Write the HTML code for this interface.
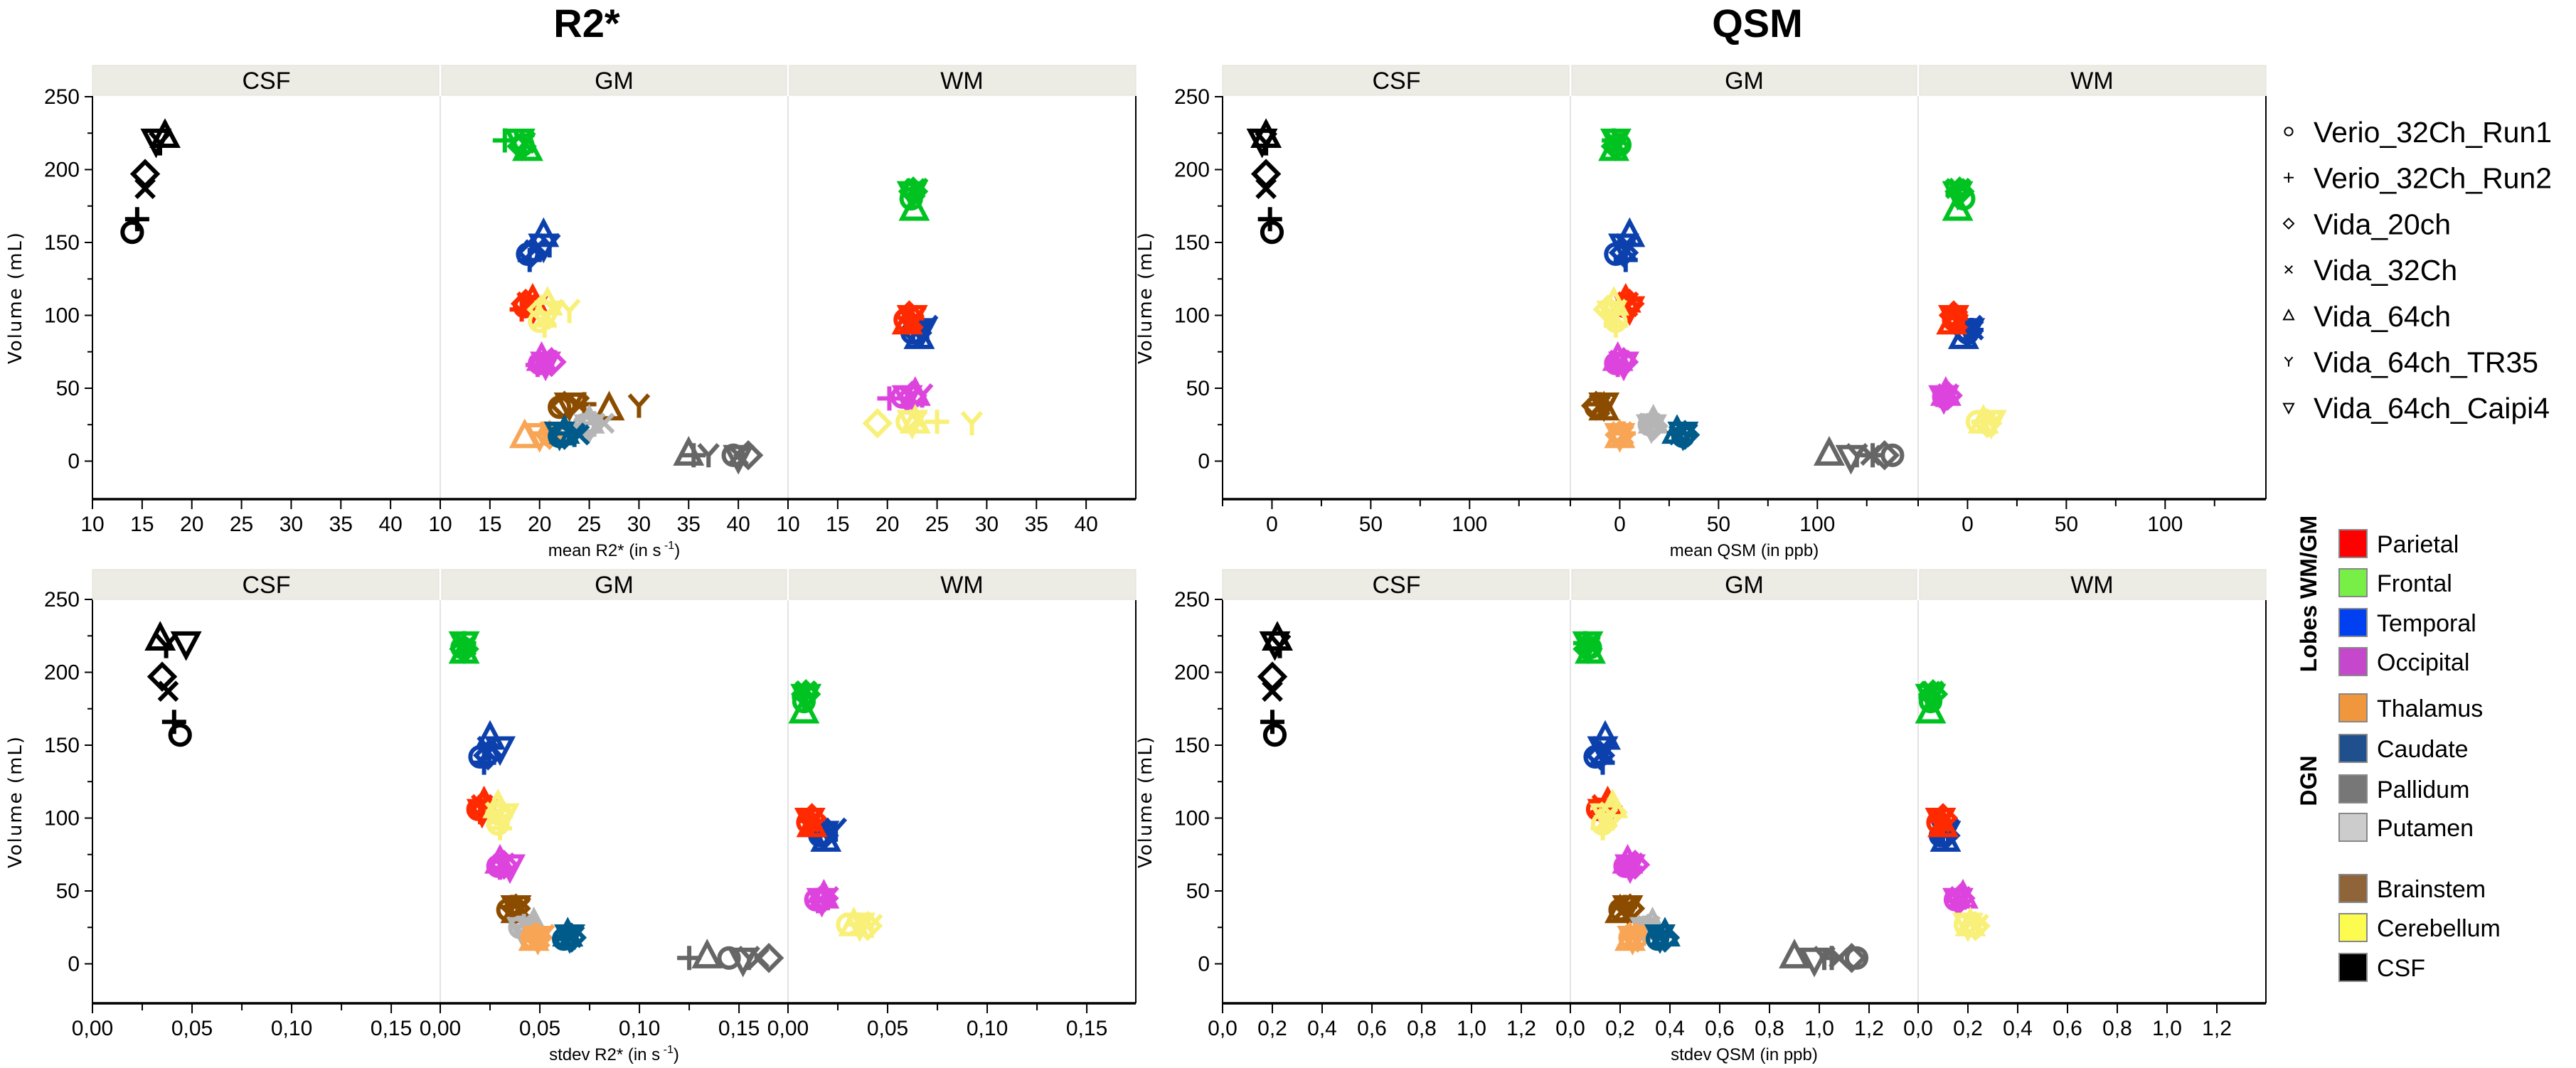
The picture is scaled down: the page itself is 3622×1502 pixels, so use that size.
<!DOCTYPE html>
<html><head><meta charset="utf-8">
<style>
html,body{margin:0;padding:0;background:#fff;}
svg{display:block;font-family:"Liberation Sans",Arial,sans-serif;}
</style></head>
<body>
<svg id="fig" width="3622" height="1502" viewBox="0 0 3622 1502" xmlns="http://www.w3.org/2000/svg">
<text x="825" y="52" font-size="56" font-weight="bold" text-anchor="middle">R2*</text>
<text x="2471" y="52" font-size="56" font-weight="bold" text-anchor="middle">QSM</text>
<g id="plots"></g>
<g id="legend"></g>
</svg>
<script>
// ---- data ----
const scanners = ["Verio_32Ch_Run1","Verio_32Ch_Run2","Vida_20ch","Vida_32Ch","Vida_64ch","Vida_64ch_TR35","Vida_64ch_Caipi4"];
const shapes = ["circle","plus","diamond","cross","triangle","y","tridown"];
const regions = ["CSF","Frontal GM","Temporal GM","Parietal GM","Cerebellum GM","Occipital GM","Brainstem","Putamen","Thalamus","Caudate","Pallidum","Frontal WM","Temporal WM","Parietal WM","Occipital WM","Cerebellum WM"];
const regionFacet = [0,1,1,1,1,1,1,1,1,1,1,2,2,2,2,2];
const regionColor = ["#000000","#00c322","#0c40ad","#ff2a00","#f8f078","#dd44dd","#8b4c00","#b5b5b5","#f8a555","#005a8a","#666666","#00c322","#0c40ad","#ff2a00","#dd44dd","#f8f078"];
const volume = [
 [157,166,197,187,223,218,220],
 [217,220,216,218,214,218,220],
 [142,138,143,145,155,148,148],
 [106,104,108,106,110,108,105],
 [96,93,104,100,108,103,102],
 [67,66,68,67,70,68,67],
 [37,39,38,38,36,38,39],
 [25,26,24,26,27,25,24],
 [18,19,18,18,17,19,18],
 [17,19,18,18,20,18,19],
 [4,4,4,4,5,4,3],
 [180,183,185,187,173,186,184],
 [88,90,88,90,85,92,90],
 [97,98,100,97,95,98,99],
 [44,43,45,44,46,45,44],
 [27,27,26,28,27,26,27]];
const meanR2 = [
 [14,14.5,15.3,15.3,17.3,16.8,16.4],
 [18.3,16.5,18.2,18.5,18.8,18.5,18.0],
 [18.8,19.0,19.2,19.5,20.4,21.0,20.4],
 [18.5,18.2,18.6,19.0,19.3,18.8,19.3],
 [20.0,20.5,20.2,20.6,20.8,23.0,21.0],
 [20.0,19.8,21.2,20.5,20.2,20.8,20.6],
 [22.0,24.5,22.5,24.0,27.0,30.0,23.0],
 [24.5,25.5,25.0,26.5,25.0,25.5,25.0],
 [21.0,20.5,21.0,21.5,18.5,21.0,20.0],
 [22.0,23.0,22.5,24.0,22.5,23.5,22.0],
 [39.5,35.5,41.0,40.0,35.0,37.0,40.0],
 [22.4,22.5,22.6,22.8,22.7,23.0,22.5],
 [22.5,22.6,23.0,23.2,23.2,24.0,23.5],
 [21.8,22.5,22.2,22.6,22.0,22.8,22.5],
 [21.5,20.2,22.5,22.3,22.8,23.5,22.0],
 [22.0,25.0,19.0,23.0,22.8,28.5,22.5]];
const meanQSM = [
 [0,-1,-3,-3,-3,-3,-5],
 [0,-3,-2,-2,-3,-2,-2],
 [-2,3,2,3,5,3,2],
 [3,4,5,4,3,4,5],
 [-2,-2,-6,-3,-3,-2,-4],
 [-2,-1,2,0,-1,0,2],
 [-12,-10,-12,-10,-8,-10,-8],
 [15,16,17,16,17,15,16],
 [0,2,0,2,0,1,0],
 [32,30,33,30,29,34,32],
 [138,128,134,127,106,120,117],
 [-2,-5,-4,-6,-5,-4,-5],
 [0,2,0,3,-2,2,1],
 [-7,-6,-7,-5,-8,-6,-7],
 [-12,-11,-10,-12,-11,-10,-12],
 [5,8,10,10,8,13,12]];
const sdR2 = [
 [0.044,0.041,0.035,0.038,0.034,0.037,0.047],
 [0.011,0.012,0.012,0.013,0.012,0.013,0.012],
 [0.020,0.022,0.024,0.024,0.025,0.024,0.030],
 [0.019,0.020,0.021,0.021,0.022,0.021,0.021],
 [0.029,0.030,0.030,0.028,0.029,0.028,0.032],
 [0.029,0.030,0.032,0.031,0.030,0.032,0.035],
 [0.034,0.036,0.038,0.040,0.038,0.040,0.038],
 [0.040,0.042,0.045,0.044,0.047,0.043,0.041],
 [0.046,0.048,0.049,0.050,0.047,0.052,0.049],
 [0.062,0.063,0.066,0.066,0.064,0.067,0.065],
 [0.145,0.125,0.165,0.160,0.134,0.155,0.152],
 [0.008,0.008,0.009,0.009,0.008,0.009,0.009],
 [0.016,0.016,0.018,0.017,0.019,0.024,0.018],
 [0.010,0.011,0.012,0.011,0.012,0.012,0.011],
 [0.014,0.015,0.018,0.016,0.018,0.020,0.017],
 [0.030,0.035,0.040,0.038,0.033,0.042,0.036]];
const sdQSM = [
 [0.21,0.20,0.20,0.20,0.22,0.23,0.21],
 [0.08,0.06,0.07,0.08,0.08,0.07,0.07],
 [0.10,0.13,0.12,0.13,0.14,0.13,0.13],
 [0.11,0.13,0.15,0.14,0.15,0.13,0.13],
 [0.13,0.13,0.17,0.15,0.17,0.16,0.14],
 [0.22,0.24,0.26,0.24,0.23,0.25,0.24],
 [0.20,0.22,0.24,0.22,0.20,0.24,0.23],
 [0.30,0.32,0.31,0.32,0.33,0.31,0.30],
 [0.24,0.26,0.27,0.25,0.24,0.26,0.25],
 [0.35,0.37,0.38,0.36,0.38,0.37,0.36],
 [1.15,1.05,1.13,1.08,0.90,1.02,0.98],
 [0.05,0.05,0.06,0.05,0.05,0.06,0.05],
 [0.09,0.10,0.11,0.10,0.11,0.12,0.11],
 [0.08,0.09,0.10,0.09,0.10,0.10,0.09],
 [0.15,0.16,0.17,0.16,0.18,0.17,0.16],
 [0.19,0.22,0.23,0.21,0.21,0.24,0.20]];
const facetNames = ["CSF","GM","WM"];
const yTicks = [0,50,100,150,200,250];
const yMinor = [25,75,125,175,225];
const r2Ticks = [10,15,20,25,30,35,40];
const qsmTicks = [0,50,100];
const qsmMinor = [-25,25,75,125];
const sdR2Ticks = [0,0.05,0.10,0.15];
const sdR2Minor = [0.025,0.075,0.125,0.175];
const sdQSMTicks = [0,0.2,0.4,0.6,0.8,1.0,1.2];
const legendColorNames = ["Parietal","Frontal","Temporal","Occipital","Thalamus","Caudate","Pallidum","Putamen","Brainstem","Cerebellum","CSF"];
const legendColors = ["#ff0000","#77ef47","#0040f0","#c548cc","#f0963c","#1f4f8c","#777777","#cccccc","#8f6439","#fcfc50","#000000"];

// ---- drawing ----
const NS="http://www.w3.org/2000/svg";
function mk(tag,attrs,parent){const e=document.createElementNS(NS,tag);for(const k in attrs)e.setAttribute(k,attrs[k]);if(parent)parent.appendChild(e);return e;}
const plots=document.getElementById('plots');
const FW=489;
const panels=[
 {name:"mean-r2star",x0:130,top:92,yz:648.5,vals:meanR2,dom:[10,45],ticks:r2Ticks,minor:[],fmt:v=>String(v),title:"mean R2* (in s",sup:true},
 {name:"mean-qsm",x0:1719,top:92,yz:648.5,vals:meanQSM,dom:[-25,151],ticks:qsmTicks,minor:qsmMinor,fmt:v=>String(v),title:"mean QSM (in ppb)",sup:false},
 {name:"stdev-r2star",x0:130,top:801,yz:1355.5,vals:sdR2,dom:[0,0.1746],ticks:sdR2Ticks,minor:sdR2Minor,fmt:v=>v.toFixed(2).replace('.',','),title:"stdev R2* (in s",sup:true},
 {name:"stdev-qsm",x0:1719,top:801,yz:1355.5,vals:sdQSM,dom:[0,1.397],ticks:sdQSMTicks,minor:[],fmt:v=>v.toFixed(1).replace('.',','),title:"stdev QSM (in ppb)",sup:false}];
function marker(g,shape,cx,cy,s,color,sw){
  const a={fill:"none",stroke:color,"stroke-width":sw};
  let e;
  if(shape==="circle"){e=mk('circle',Object.assign({cx:cx,cy:cy,r:s*0.8},a),g);}
  else if(shape==="plus"){e=mk('path',Object.assign({d:`M${cx-s} ${cy}H${cx+s}M${cx} ${cy-s}V${cy+s}`},a),g);}
  else if(shape==="diamond"){e=mk('path',Object.assign({d:`M${cx} ${cy-s}L${cx+s} ${cy}L${cx} ${cy+s}L${cx-s} ${cy}Z`},a),g);}
  else if(shape==="cross"){const d=s*0.75;e=mk('path',Object.assign({d:`M${cx-d} ${cy-d}L${cx+d} ${cy+d}M${cx-d} ${cy+d}L${cx+d} ${cy-d}`},a),g);}
  else if(shape==="triangle"){e=mk('path',Object.assign({d:`M${cx} ${cy-s*1.1}L${cx+s} ${cy+s*0.8}L${cx-s} ${cy+s*0.8}Z`},a),g);}
  else if(shape==="tridown"){e=mk('path',Object.assign({d:`M${cx} ${cy+s*1.1}L${cx+s} ${cy-s*0.8}L${cx-s} ${cy-s*0.8}Z`},a),g);}
  else {e=mk('path',Object.assign({d:`M${cx-s*0.8} ${cy-s*0.9}L${cx} ${cy}L${cx+s*0.8} ${cy-s*0.9}M${cx} ${cy}V${cy+s}`},a),g);}
  return e;
}
panels.forEach(p=>{
  const g=mk('g',{},plots);
  
  
  const ptop=p.top+43, pbot=p.top+610;
  const yS=v=>p.yz-2.05*v;
  const xS=(f,v)=>p.x0+f*FW+(v-p.dom[0])/(p.dom[1]-p.dom[0])*FW;
  for(let f=0;f<3;f++){
    const sx=p.x0+f*FW;
    const r=mk('rect',{x:sx+(f?2:0),y:p.top,width:FW-(f?2:0)-(f<2?2:0),height:42,fill:"#ecebe4",stroke:"#e0dfd8","stroke-width":1},g);
    
    
    const t=mk('text',{x:sx+FW/2,y:p.top+33,"font-size":34,"text-anchor":"middle"},g);
    t.textContent=facetNames[f];
    
    
    if(f>0) mk('line',{x1:sx,x2:sx,y1:ptop,y2:pbot,stroke:"#e3e3e3","stroke-width":2},g);
  }
  mk('line',{x1:p.x0,x2:p.x0,y1:ptop,y2:pbot,stroke:"#000","stroke-width":2},g);
  mk('line',{x1:p.x0+3*FW,x2:p.x0+3*FW,y1:ptop,y2:pbot,stroke:"#000","stroke-width":2},g);
  mk('line',{x1:p.x0,x2:p.x0+3*FW,y1:pbot,y2:pbot,stroke:"#000","stroke-width":3.5},g);
  yTicks.forEach(v=>{
    mk('line',{x1:p.x0-11,x2:p.x0,y1:yS(v),y2:yS(v),stroke:"#000","stroke-width":2},g);
    const t=mk('text',{x:p.x0-18,y:yS(v)+10,"font-size":30,"text-anchor":"end"},g);
    t.textContent=v;
    
    
  });
  yMinor.forEach(v=>mk('line',{x1:p.x0-7,x2:p.x0,y1:yS(v),y2:yS(v),stroke:"#000","stroke-width":2},g));
  for(let f=0;f<3;f++){
    p.ticks.forEach(v=>{
      const x=xS(f,v);
      mk('line',{x1:x,x2:x,y1:pbot,y2:pbot+14,stroke:"#000","stroke-width":2},g);
      const t=mk('text',{x:x,y:pbot+45,"font-size":30,"text-anchor":"middle"},g);
      t.textContent=p.fmt(v);
      
      
    });
    p.minor.forEach(v=>{const x=xS(f,v);if(x>=p.x0+f*FW-1&&x<=p.x0+(f+1)*FW)mk('line',{x1:x,x2:x,y1:pbot,y2:pbot+10,stroke:"#000","stroke-width":2},g);});
  }
  const xt=mk('text',{x:p.x0+1.5*FW,y:pbot+80,"font-size":24,"text-anchor":"middle"},g);
  
  
  if(p.sup){xt.innerHTML=p.title+'<tspan dy="-10" font-size="16"> -1</tspan><tspan dy="10">)</tspan>';}
  else xt.textContent=p.title;
  const yc=(ptop+pbot)/2;
  const yt=mk('text',{x:p.x0-100,y:yc,"font-size":26,"text-anchor":"middle","letter-spacing":"2",transform:`rotate(-90 ${p.x0-100} ${yc})`,"font-family":"DejaVu Sans, sans-serif"},g);
  yt.textContent="Volume (mL)";
  
  
  regions.forEach((rn,ri)=>{
    const rg=mk('g',{},g);
    
    
    scanners.forEach((sn,si)=>{
      const m=marker(rg,shapes[si],xS(regionFacet[ri],p.vals[ri][si]),yS(volume[ri][si]),17,regionColor[ri],6);
      
      
    });
  });
});
const lg=document.getElementById('legend');
scanners.forEach((sn,i)=>{
  const y=186+i*64.7;
  const m=marker(lg,shapes[i],3218,y-1,7,"#000",2);
  
  
  const t=mk('text',{x:3253,y:y+14,"font-size":41},lg);
  t.textContent=sn;
  
  
});
const colorRowY=[765,820,876,931,996,1053,1110,1164,1250,1305,1361];
legendColorNames.forEach((n,i)=>{
  const y=colorRowY[i];
  const r=mk('rect',{x:3289,y:y-20,width:39,height:39,fill:legendColors[i],stroke:"#888","stroke-width":2},lg);
  
  
  const t=mk('text',{x:3342,y:y+12,"font-size":34},lg);
  t.textContent=n;
  
  
});
const g1=mk('text',{x:3257,y:835,"font-size":32,"font-weight":"bold","text-anchor":"middle",transform:"rotate(-90 3257 835)"},lg);
g1.textContent="Lobes WM/GM";


const g2=mk('text',{x:3257,y:1098,"font-size":32,"font-weight":"bold","text-anchor":"middle",transform:"rotate(-90 3257 1098)"},lg);
g2.textContent="DGN";


</script>
</body></html>
